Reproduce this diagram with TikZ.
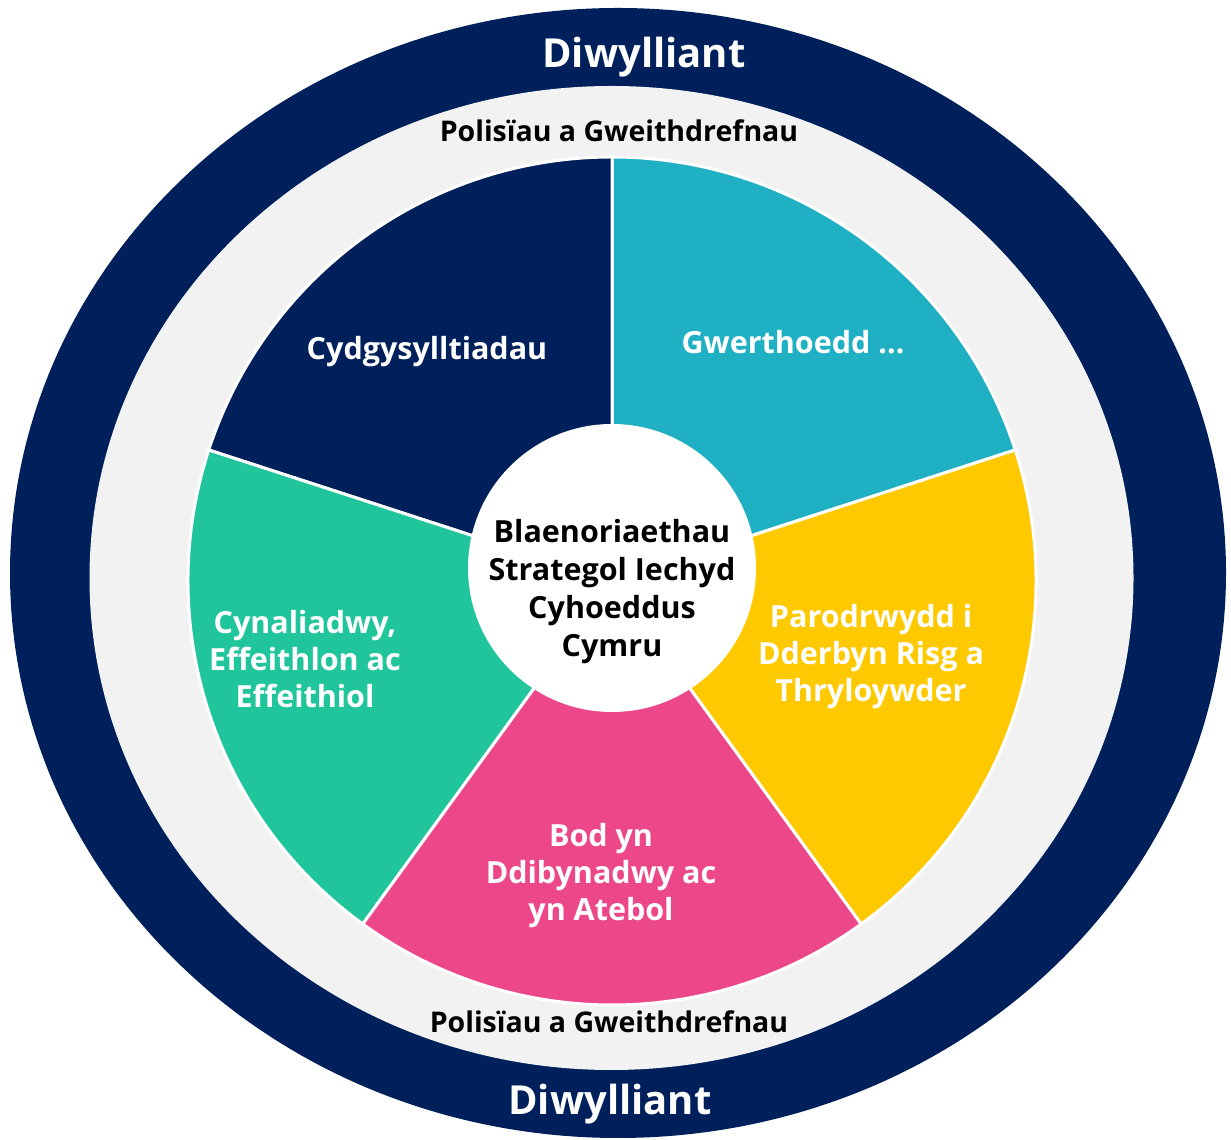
\documentclass[tikz,border=0pt]{standalone}
\usepackage{fontspec}
\setmainfont{Open Sans}
\definecolor{navy}{HTML}{00205C}
\definecolor{ringgray}{HTML}{F2F2F2}
\definecolor{teal}{HTML}{1FB0C4}
\definecolor{sunyellow}{HTML}{FFC900}
\definecolor{rosepink}{HTML}{EC4889}
\definecolor{mint}{HTML}{21C59C}
\begin{document}
\begin{tikzpicture}[x=1pt,y=1pt,
  sector/.style={draw=white,line width=3pt,line join=miter},
  seclabel/.style={text=white,font=\bfseries\fontsize{30.5}{37}\selectfont,align=center,inner sep=0pt},
  ringlabel/.style={text=white,font=\bfseries\fontsize{40}{48}\selectfont,inner sep=0pt},
  bandlabel/.style={text=black,font=\bfseries\fontsize{28.5}{32}\selectfont,inner sep=0pt}]
\useasboundingbox (0,0) rectangle (1231,1140);
\fill[white] (0,0) rectangle (1231,1140);
% outer ring and band
\fill[navy] (618,567) ellipse [x radius=608, y radius=565];
\fill[ringgray] (611.5,562) ellipse [x radius=522, y radius=492];
% sectors
\coordinate (c) at (612,559);
\def\R{424}
\fill[teal,sector] (c) -- ++(18:\R) arc[start angle=18,end angle=90,radius=\R] -- cycle;
\fill[navy,sector] (c) -- ++(90:\R) arc[start angle=90,end angle=162,radius=\R] -- cycle;
\fill[mint,sector] (c) -- ++(162:\R) arc[start angle=162,end angle=234,radius=\R] -- cycle;
\fill[rosepink,sector] (c) -- ++(234:\R) arc[start angle=234,end angle=306,radius=\R] -- cycle;
\fill[sunyellow,sector] (c) -- ++(306:\R) arc[start angle=306,end angle=378,radius=\R] -- cycle;
% centre
\node[circle,fill=white,minimum size=288pt,inner sep=0pt] (hub) at (612,572) {};
\node[text=black,font=\bfseries\fontsize{30.5}{38}\selectfont,align=center,inner sep=0pt] (hubtext) at (612,548)
  {Blaenoriaethau\\Strategol Iechyd\\Cyhoeddus\\Cymru};
% sector labels
\node[seclabel] (s1) at (427,788) {Cydgysylltiadau};
\node[seclabel] (s2) at (793,798) {Gwerthoedd …};
\node[seclabel] (s3) at (871,483) {Parodrwydd i\\Dderbyn Risg a\\Thryloywder};
\node[seclabel] (s4) at (601,264) {Bod yn\\Ddibynadwy ac\\yn Atebol};
\node[seclabel] (s5) at (305,481) {Cynaliadwy,\\Effeithlon ac\\Effeithiol};
% ring labels
\node[ringlabel] (d1) at (644,1083) {Diwylliant};
\node[ringlabel] (d2) at (610,36) {Diwylliant};
\node[bandlabel] (p1) at (619,1009) {Polisïau a Gweithdrefnau};
\node[bandlabel] (p2) at (609,118) {Polisïau a Gweithdrefnau};
\end{tikzpicture}
\end{document}
